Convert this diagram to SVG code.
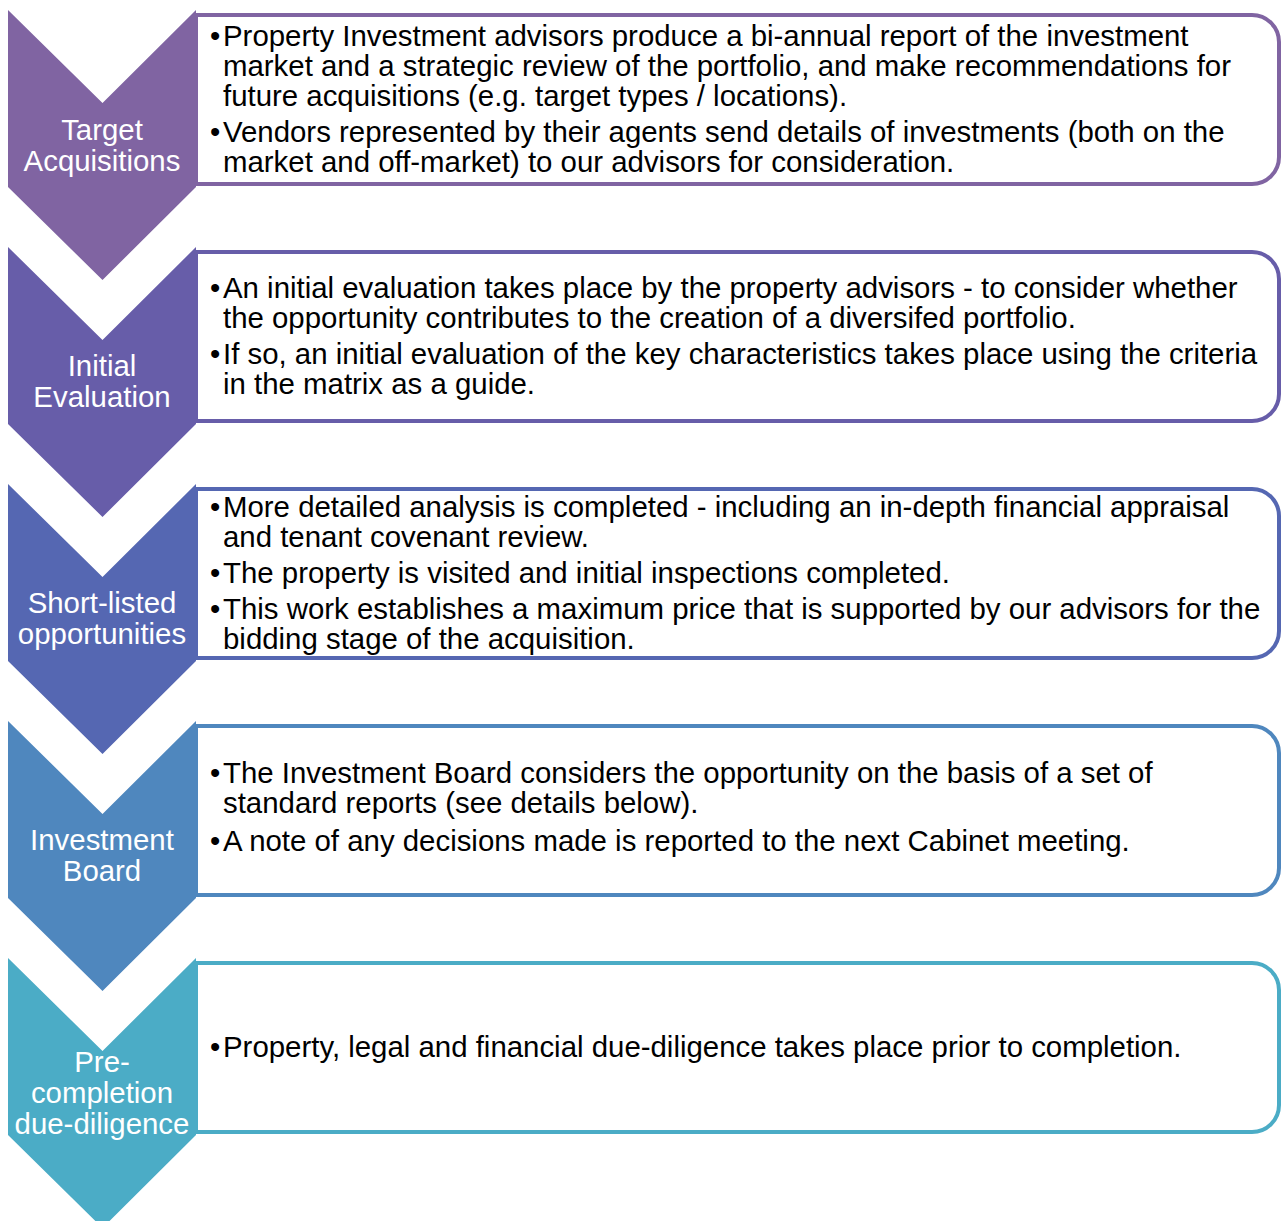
<svg xmlns="http://www.w3.org/2000/svg" width="1282" height="1221" viewBox="0 0 1282 1221">
<style>
.box{fill:#fff;stroke-width:4}
.lbl{font-family:"Liberation Sans",Arial,sans-serif;font-size:29.4px;fill:#fff;text-anchor:middle}
.txt{font-family:"Liberation Sans",Arial,sans-serif;font-size:29.4px;fill:#000}
</style>
<defs>
<path id="chev" d="M8,0 L102.5,93 L196,0 L196,177 L102.5,270 L8,177 Z"/>
<path id="box" d="M196,0 H1252 A27,27 0 0 1 1279,27 V142 A27,27 0 0 1 1252,169 H196 Z"/>
</defs>
<rect width="1282" height="1221" fill="#fff"/>
<g id="connectors"/>
<g id="step1">
<use href="#box" class="box" stroke="#8064A2" transform="translate(0,15)"/>
<use href="#chev" fill="#8064A2" transform="translate(0,10)"/>
<text class="lbl" x="102" y="140">Target</text>
<text class="lbl" x="102" y="171">Acquisitions</text>
<text class="txt"><tspan x="210" y="46">•</tspan><tspan x="223" y="46">Property Investment advisors produce a bi-annual report of the investment</tspan><tspan x="223" y="76">market and a strategic review of the portfolio, and make recommendations for</tspan><tspan x="223" y="106">future acquisitions (e.g. target types / locations).</tspan><tspan x="210" y="142">•</tspan><tspan x="223" y="142">Vendors represented by their agents send details of investments (both on the</tspan><tspan x="223" y="172">market and off-market) to our advisors for consideration.</tspan></text>
</g>
<g id="step2">
<use href="#box" class="box" stroke="#675DA9" transform="translate(0,252)"/>
<use href="#chev" fill="#675DA9" transform="translate(0,247)"/>
<text class="lbl" x="102" y="376">Initial</text>
<text class="lbl" x="102" y="407">Evaluation</text>
<text class="txt"><tspan x="210" y="298">•</tspan><tspan x="223" y="298">An initial evaluation takes place by the property advisors - to consider whether</tspan><tspan x="223" y="328">the opportunity contributes to the creation of a diversifed portfolio.</tspan><tspan x="210" y="364">•</tspan><tspan x="223" y="364">If so, an initial evaluation of the key characteristics takes place using the criteria</tspan><tspan x="223" y="394">in the matrix as a guide.</tspan></text>
</g>
<g id="step3">
<use href="#box" class="box" stroke="#5567B2" transform="translate(0,489)"/>
<use href="#chev" fill="#5567B2" transform="translate(0,484)"/>
<text class="lbl" x="102" y="613">Short-listed</text>
<text class="lbl" x="102" y="644">opportunities</text>
<text class="txt"><tspan x="210" y="517">•</tspan><tspan x="223" y="517">More detailed analysis is completed - including an in-depth financial appraisal</tspan><tspan x="223" y="547">and tenant covenant review.</tspan><tspan x="210" y="583">•</tspan><tspan x="223" y="583">The property is visited and initial inspections completed.</tspan><tspan x="210" y="619">•</tspan><tspan x="223" y="619">This work establishes a maximum price that is supported by our advisors for the</tspan><tspan x="223" y="649">bidding stage of the acquisition.</tspan></text>
</g>
<g id="step4">
<use href="#box" class="box" stroke="#4F87BE" transform="translate(0,726)"/>
<use href="#chev" fill="#4F87BE" transform="translate(0,721)"/>
<text class="lbl" x="102" y="850">Investment</text>
<text class="lbl" x="102" y="881">Board</text>
<text class="txt"><tspan x="210" y="783">•</tspan><tspan x="223" y="783">The Investment Board considers the opportunity on the basis of a set of</tspan><tspan x="223" y="813">standard reports (see details below).</tspan><tspan x="210" y="851">•</tspan><tspan x="223" y="851">A note of any decisions made is reported to the next Cabinet meeting.</tspan></text>
</g>
<g id="step5">
<use href="#box" class="box" stroke="#4BACC6" transform="translate(0,963)"/>
<use href="#chev" fill="#4BACC6" transform="translate(0,958)"/>
<text class="lbl" x="102" y="1072">Pre-</text>
<text class="lbl" x="102" y="1103">completion</text>
<text class="lbl" x="102" y="1134">due-diligence</text>
<text class="txt"><tspan x="210" y="1057">•</tspan><tspan x="223" y="1057">Property, legal and financial due-diligence takes place prior to completion.</tspan></text>
</g>
</svg>
